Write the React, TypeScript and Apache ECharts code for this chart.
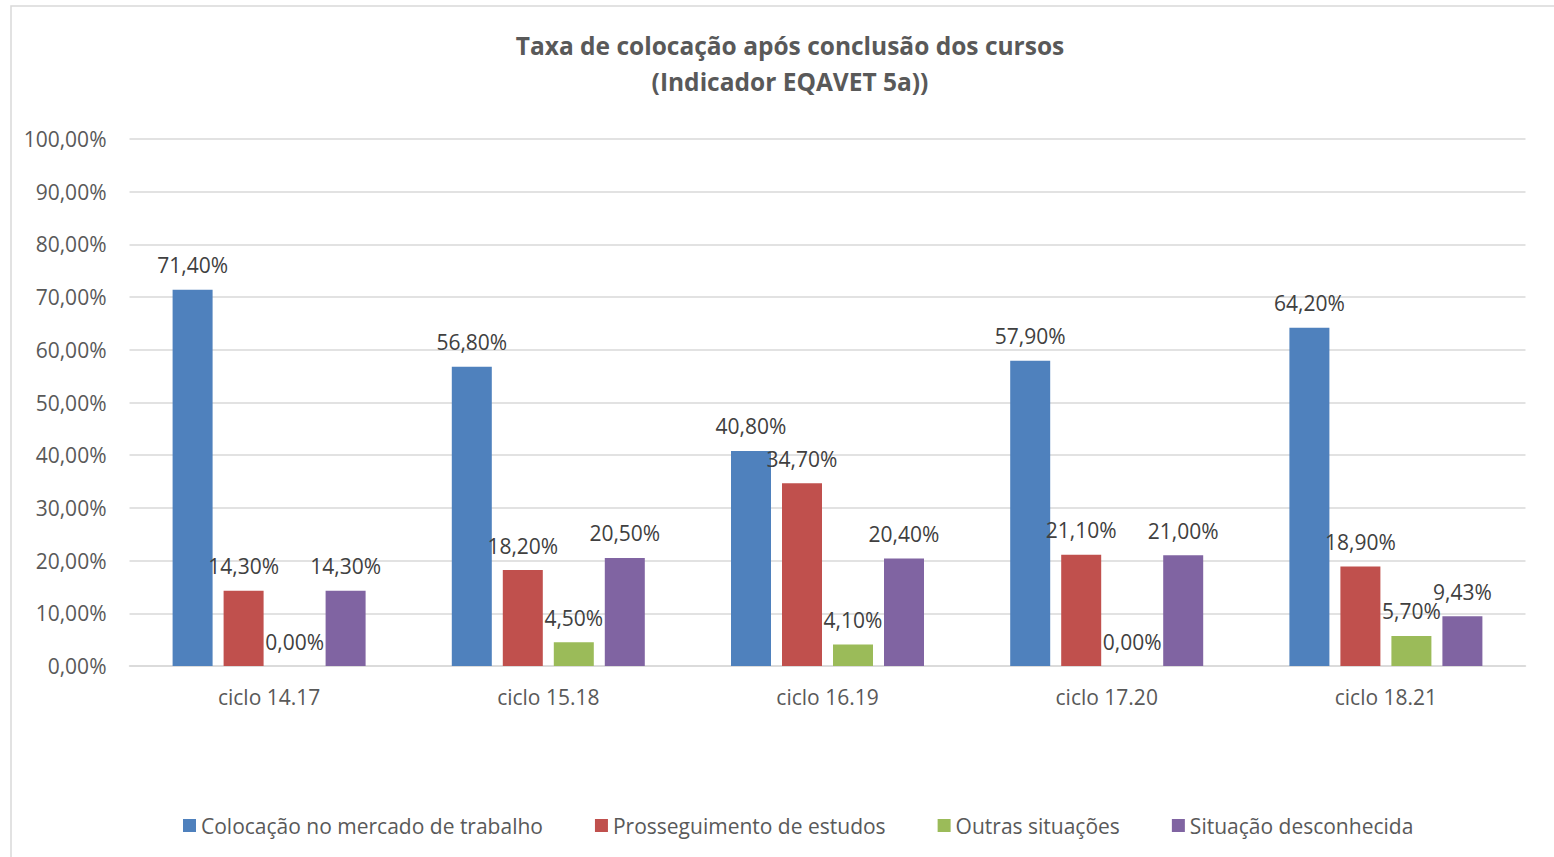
import React, { useEffect, useRef } from "react";
import * as echarts from "echarts";

const categories = ["ciclo 14.17", "ciclo 15.18", "ciclo 16.19", "ciclo 17.20", "ciclo 18.21"];
const seriesNames = [
  "Colocação no mercado de trabalho",
  "Prosseguimento de estudos",
  "Outras situações",
  "Situação desconhecida",
];
const colocacao = [71.4, 56.8, 40.8, 57.9, 64.2];
const prosseguimento = [14.3, 18.2, 34.7, 21.1, 18.9];
const outras = [0, 4.5, 4.1, 0, 5.7];
const desconhecida = [14.3, 20.5, 20.4, 21.0, 9.43];
const colors = ["#4F81BD", "#C0504D", "#9BBB59", "#8064A2"];

const FONT = "'Open Sans', 'Noto Sans', sans-serif";
const FS = 21;

const fmt = (v: number) => v.toFixed(2).replace(".", ",") + "%";

export default function App() {
  const ref = useRef<HTMLDivElement>(null);
  useEffect(() => {
    document.body.style.margin = "0";
    const chart = echarts.init(ref.current!, undefined, { renderer: "svg" });
    const data = [colocacao, prosseguimento, outras, desconhecida];
    chart.setOption({
      animation: false,
      backgroundColor: "#ffffff",
      textStyle: { fontFamily: FONT },
      title: {
        text: "Taxa de colocação após conclusão dos cursos\n(Indicador EQAVET 5a))",
        left: 785,
        textAlign: "center",
        top: 22,
        textStyle: {
          fontFamily: FONT,
          fontSize: 24.5,
          fontWeight: "bold",
          color: "#595959",
          lineHeight: 36,
        },
      },
      graphic: [
        {
          type: "rect",
          shape: { x: 11, y: 6, width: 1600, height: 900 },
          style: { fill: "none", stroke: "#d9d9d9", lineWidth: 1.5 },
          silent: true,
          z: -10,
        },
      ],
      legend: {
        left: 183,
        top: 815,
        padding: 0,
        itemWidth: 13,
        itemHeight: 13,
        itemGap: 52,
        icon: "rect",
        textStyle: { fontFamily: FONT, fontSize: FS, color: "#595959" },
        data: seriesNames,
      },
      grid: { left: 129.5, top: 139, width: 1396, height: 527, containLabel: false },
      xAxis: {
        type: "category",
        data: categories,
        axisLine: { lineStyle: { color: "#d9d9d9", width: 1.5 } },
        axisTick: { show: false },
        axisLabel: { fontFamily: FONT, fontSize: FS, color: "#595959", margin: 20 },
      },
      yAxis: {
        type: "value",
        min: 0,
        max: 100,
        interval: 10,
        axisLine: { show: false },
        axisTick: { show: false },
        splitLine: { lineStyle: { color: "#d9d9d9", width: 1.5 } },
        axisLabel: {
          fontFamily: FONT,
          fontSize: FS,
          color: "#595959",
          margin: 23,
          formatter: (v: number) => fmt(v),
        },
      },
      series: seriesNames.map((name, i) => ({
        name,
        type: "bar",
        data: data[i],
        barWidth: 40,
        barGap: "27.5%",
        itemStyle: { color: colors[i] },
        label: {
          show: true,
          position: "top",
          distance: 14,
          fontFamily: FONT,
          fontSize: FS,
          color: "#404040",
          formatter: (p: any) => fmt(p.value),
        },
      })),
    });
    return () => chart.dispose();
  }, []);
  return <div ref={ref} style={{ width: 1554, height: 857 }} />;
}
